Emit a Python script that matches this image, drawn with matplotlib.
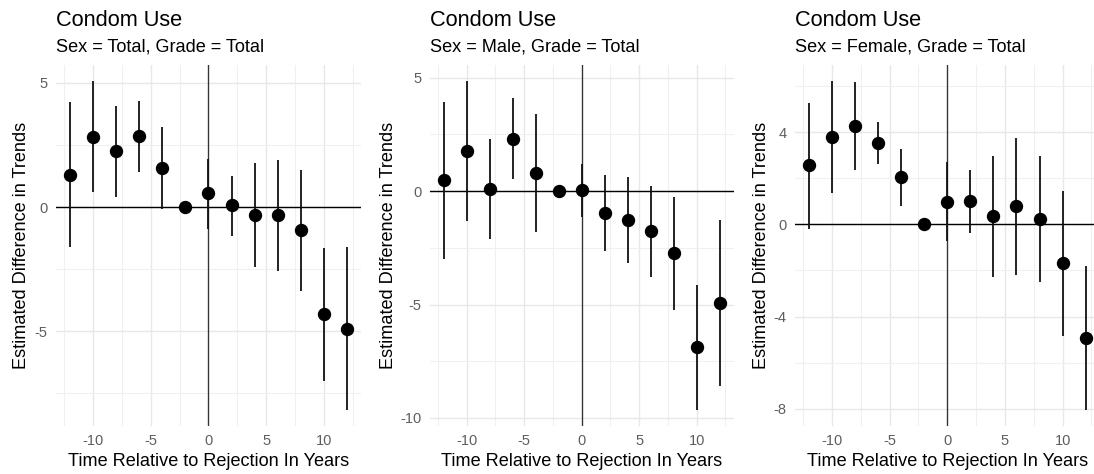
import numpy as np
import matplotlib
matplotlib.use("Agg")
import matplotlib.pyplot as plt
from matplotlib.ticker import MultipleLocator, AutoMinorLocator

plt.rcParams['font.family'] = ['Liberation Sans', 'DejaVu Sans']
plt.rcParams['axes.unicode_minus'] = False

# event time (years relative to rejection)
years = [-12, -10, -8, -6, -4, -2, 0, 2, 4, 6, 8, 10, 12]

# Sex = Total
total_est = [1.31, 2.82, 2.25, 2.85, 1.57, 0.0, 0.55, 0.07, -0.32, -0.33, -0.92, -4.31, -4.89]
total_lo = [-1.62, 0.62, 0.39, 1.42, -0.09, 0.0, -0.87, -1.16, -2.40, -2.57, -3.36, -6.99, -8.15]
total_hi = [4.23, 5.06, 4.08, 4.28, 3.23, 0.0, 1.93, 1.26, 1.79, 1.91, 1.50, -1.63, -1.61]

# Sex = Male
male_est = [0.48, 1.76, 0.10, 2.30, 0.81, 0.0, 0.06, -0.95, -1.28, -1.77, -2.73, -6.89, -4.94]
male_lo = [-2.99, -1.30, -2.10, 0.53, -1.82, 0.0, -1.13, -2.62, -3.17, -3.80, -5.22, -9.63, -8.58]
male_hi = [3.93, 4.84, 2.30, 4.09, 3.42, 0.0, 1.22, 0.70, 0.62, 0.25, -0.26, -4.15, -1.28]

# Sex = Female
female_est = [2.57, 3.78, 4.27, 3.54, 2.04, 0.0, 0.98, 1.03, 0.35, 0.78, 0.23, -1.68, -4.91]
female_lo = [-0.19, 1.37, 2.37, 2.61, 0.79, 0.0, -0.74, -0.39, -2.28, -2.18, -2.50, -4.85, -8.04]
female_hi = [5.29, 6.21, 6.17, 4.45, 3.28, 0.0, 2.71, 2.38, 2.97, 3.75, 2.97, 1.47, -1.79]

panels = [
    ("Sex = Total, Grade = Total", total_est, total_lo, total_hi, 5),
    ("Sex = Male, Grade = Total", male_est, male_lo, male_hi, 5),
    ("Sex = Female, Grade = Total", female_est, female_lo, female_hi, 4),
]

W, H = 1094, 474
fig = plt.figure(figsize=(W / 100, H / 100), dpi=100)

# panel rectangles in pixels (left, width) and y label baseline x
lefts = [56.2, 429.9, 795.1]
widths = [304.5, 303.6, 304.4]
ylab_x = [26, 393.3, 766]
top_px, bot_px = 65, 426

for (sub, est, lo, hi, step), l, w, yl in zip(panels, lefts, widths, ylab_x):
    ax = fig.add_axes([l / W, (H - bot_px) / H, w / W, (bot_px - top_px) / H])
    for s in ax.spines.values():
        s.set_visible(False)

    ax.xaxis.set_major_locator(MultipleLocator(5))
    ax.xaxis.set_minor_locator(AutoMinorLocator(2))
    ax.yaxis.set_major_locator(MultipleLocator(step))
    ax.yaxis.set_minor_locator(AutoMinorLocator(2))
    ax.grid(which='major', color='#E8E8E8', linewidth=1.0)
    ax.grid(which='minor', color='#F0F0F0', linewidth=0.8)
    ax.set_axisbelow(True)
    ax.tick_params(which='both', length=0)
    ax.tick_params(axis='x', labelsize=10.5, labelcolor='#5E5E5E', pad=6)
    ax.tick_params(axis='y', labelsize=10.5, labelcolor='#5E5E5E', pad=6)

    # error bars (reference year has none)
    x = np.array(years)
    lo_a, hi_a = np.array(lo), np.array(hi)
    has_ci = hi_a != lo_a
    ax.vlines(x[has_ci], lo_a[has_ci], hi_a[has_ci], color='#111111', linewidth=1.3, zorder=3)
    ax.plot(years, est, 'o', color='black', markersize=8.6, zorder=4)
    ax.margins(x=0.05, y=0.05)

    ax.axhline(0, color='black', linewidth=1.0, zorder=2)
    ax.axvline(0, color='#333333', linewidth=0.95, zorder=2)

    ax.set_xlabel("Time Relative to Rejection In Years", fontsize=13.1, labelpad=3)
    ax.set_ylabel("Estimated Difference in Trends", fontsize=13.1, va='baseline')
    ax.yaxis.set_label_coords((yl - l) / w, 0.5)

    ax.text(0, 1 + 39 / 361, "Condom Use", transform=ax.transAxes,
            fontsize=15.7, va='baseline', ha='left')
    ax.text(0, 1 + 13.3 / 361, sub, transform=ax.transAxes,
            fontsize=13.1, va='baseline', ha='left')

fig.savefig("out.png", dpi=100, facecolor='white')
